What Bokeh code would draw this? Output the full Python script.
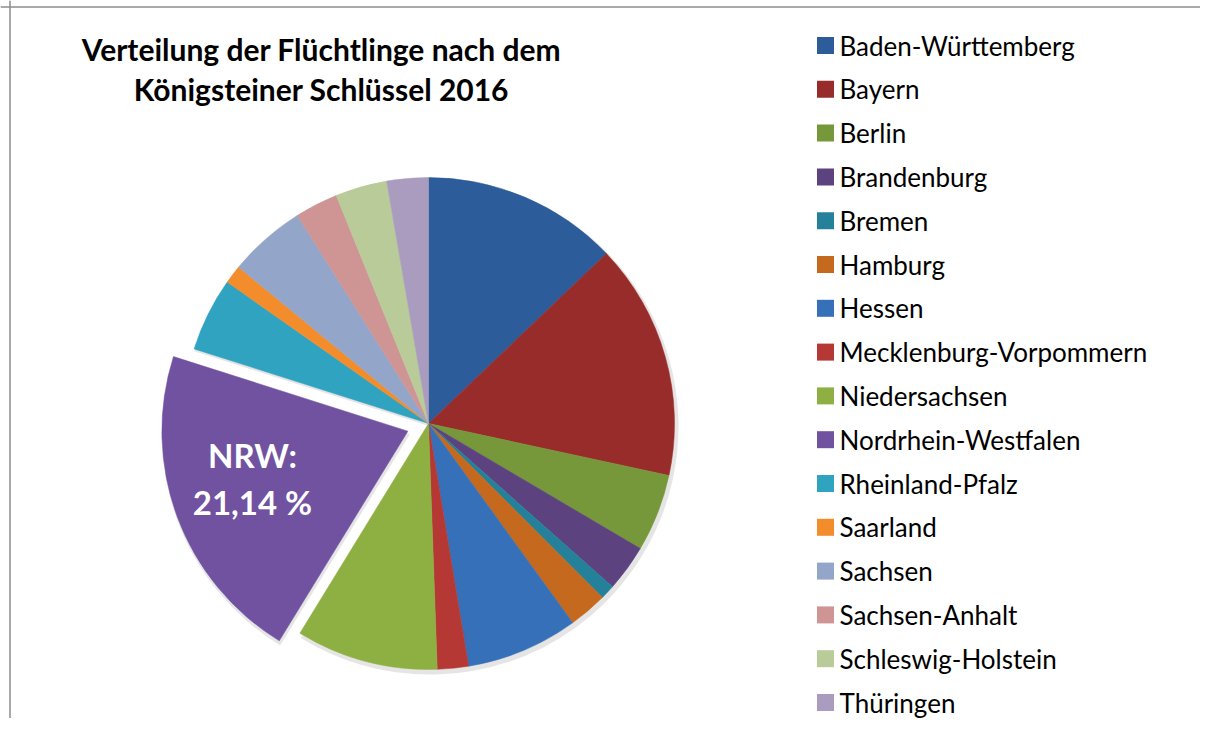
import math
from bokeh.plotting import figure
from bokeh.models import Range1d, Span, ColumnDataSource
from bokeh.core.properties import value
from bokeh.embed import file_html
from bokeh.resources import INLINE

# ---- data ----
states = ["Baden-Württemberg", "Bayern", "Berlin", "Brandenburg", "Bremen",
          "Hamburg", "Hessen", "Mecklenburg-Vorpommern", "Niedersachsen",
          "Nordrhein-Westfalen", "Rheinland-Pfalz", "Saarland", "Sachsen",
          "Sachsen-Anhalt", "Schleswig-Holstein", "Thüringen"]
shares = [12.86, 15.52, 5.10, 3.06, 0.95, 2.53, 7.36, 2.04, 9.32,
          21.14, 4.84, 1.22, 5.08, 2.83, 3.40, 2.72]
colors = ["#2D5C9A", "#982C2A", "#77983A", "#5D4280", "#25819A",
          "#C4691E", "#3670B8", "#B53834", "#8EB043", "#7052A0",
          "#30A3C1", "#F38D2C", "#93A6C9", "#CF9594", "#B8CB99", "#AA9CBF"]
exploded = "Nordrhein-Westfalen"
title_lines = ["Verteilung der Flüchtlinge nach dem", "Königsteiner Schlüssel 2016"]
label_lines = ["NRW:", "21,14 %"]

W, H = 1200, 718
p = figure(width=W, height=H, output_backend="svg", toolbar_location=None,
           x_range=Range1d(0, W), y_range=Range1d(0, H), min_border=0)
p.axis.visible = False
p.grid.visible = False
p.outline_line_color = None
p.background_fill_color = "white"

cx, cy, r = 428, 295, 246
explode_d = 22

total = sum(shares)
starts, ends, xs, ys, mids = [], [], [], [], []
cum = 0.0
for name, v in zip(states, shares):
    a0 = math.pi / 2 - 2 * math.pi * cum / total
    a1 = math.pi / 2 - 2 * math.pi * (cum + v) / total
    mid = (a0 + a1) / 2
    d = explode_d if name == exploded else 0
    starts.append(a0)
    ends.append(a1)
    mids.append(mid)
    xs.append(cx + d * math.cos(mid))
    ys.append(cy + d * math.sin(mid))
    cum += v

src = ColumnDataSource(dict(x=xs, y=ys, start=starts, end=ends, color=colors, name=states,
                            sx=[x + 2 for x in xs], sy=[y - 3 for y in ys]))

# soft shadow
p.wedge(x="sx", y="sy", radius=r + 2, start_angle="start", end_angle="end", direction="clock",
        source=src, fill_color="black", fill_alpha=0.10, line_color=None)
p.wedge(x="x", y="y", radius=r, start_angle="start", end_angle="end", direction="clock",
        source=src, fill_color="color", line_color="color", line_width=0.5)

# NRW label
i = states.index(exploded)
la = mids[i] - 0.063
lx = xs[i] + 0.66 * r * math.cos(la)
ly = ys[i] + 0.66 * r * math.sin(la)
p.text(x=[lx, lx], y=[ly + 23, ly - 24], text=label_lines, text_align="center",
       text_baseline="middle", text_color="white", text_font=value("Lato"),
       text_font_style="bold", text_font_size="33px")

# title
p.text(x=[321, 321], y=[H - 48, H - 88], text=title_lines, text_align="center",
       text_baseline="middle", text_color="black", text_font=value("Lato"),
       text_font_style="bold", text_font_size="30px")

# legend
lg_x, lg_top, lg_step = 825, H - 45, 43.8
ly_list = [lg_top - k * lg_step for k in range(len(states))]
p.scatter(x=[lg_x] * len(states), y=ly_list, marker="square", size=17,
          fill_color=colors, line_color=None)
p.text(x=[lg_x + 14] * len(states), y=ly_list, text=states, text_align="left",
       text_baseline="middle", text_color="black", text_font=value("Lato"),
       text_font_size="26px")

# chart border (top and left visible)
p.add_layout(Span(location=H - 6.5, dimension="width", line_color="#8C8C8C", line_width=1.5))
p.add_layout(Span(location=9.5, dimension="height", line_color="#8C8C8C", line_width=1.5))

open("out.html", "w").write(file_html(p, INLINE))
